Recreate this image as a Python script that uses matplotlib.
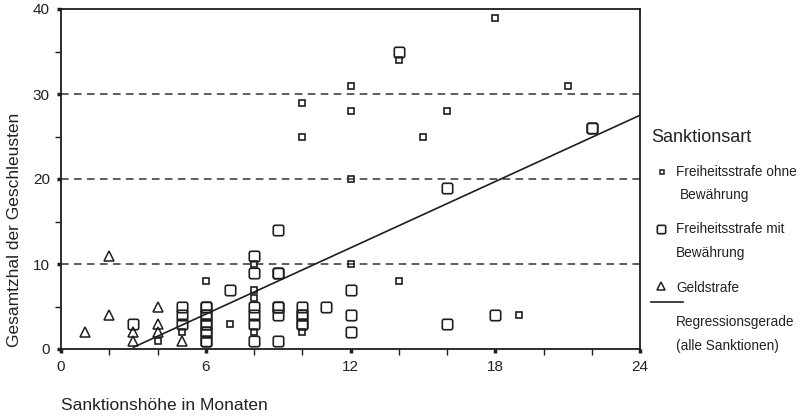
import numpy as np
import matplotlib
matplotlib.use('Agg')
import matplotlib.pyplot as plt
from matplotlib.path import Path
from matplotlib.lines import Line2D
from matplotlib.ticker import MultipleLocator

plt.rcParams['font.family'] = ['Liberation Sans', 'DejaVu Sans']

# Freiheitsstrafe ohne Bewaehrung
ohne_x = [4, 5, 6, 7, 8, 8, 8, 8, 10, 10, 10, 12, 12, 12, 12, 14, 14, 15, 16, 18, 19, 21]
ohne_y = [1, 2, 8, 3, 10, 7, 6, 2, 2, 25, 29, 31, 28, 20, 10, 34, 8, 25, 28, 39, 4, 31]

# Freiheitsstrafe mit Bewaehrung
mit_x = [3, 5, 5, 5, 6, 6, 6, 6, 6, 6, 6, 6, 6, 6, 7,
         8, 8, 8, 8, 8, 8, 9, 9, 9, 9, 9, 9, 9,
         10, 10, 10, 10, 10, 11, 12, 12, 12, 14, 16, 16, 18, 22, 22]
mit_y = [3, 5, 4, 3, 5, 5, 4, 4, 3, 3, 2, 2, 1, 1, 7,
         11, 9, 5, 4, 3, 1, 14, 9, 9, 5, 5, 4, 1,
         5, 4, 4, 3, 3, 5, 7, 4, 2, 35, 19, 3, 4, 26, 26]

# Geldstrafe
geld_x = [1, 2, 2, 3, 3, 4, 4, 4, 5]
geld_y = [2, 11, 4, 2, 1, 5, 3, 2, 1]

# Regressionsgerade (alle Sanktionen)
reg_intercept = -3.7
reg_slope = 1.3
reg_range = [3, 24]

x_ticks = [0, 6, 12, 18, 24]
y_ticks = [0, 10, 20, 30, 40]
grid_levels = [10, 20, 30]


def rounded_square(r=0.35, n=8):
    # Marker path: square with rounded corners
    pts = []
    corners = [(1 - r, 1 - r, 0), (-1 + r, 1 - r, 90), (-1 + r, -1 + r, 180), (1 - r, -1 + r, 270)]
    for cx, cy, a0 in corners:
        for t in np.linspace(np.radians(a0), np.radians(a0 + 90), n):
            pts.append((cx + r * np.cos(t), cy + r * np.sin(t)))
    pts.append(pts[0])
    codes = [Path.MOVETO] + [Path.LINETO] * (len(pts) - 2) + [Path.CLOSEPOLY]
    return Path(pts, codes)


ink = '#1e1e1e'
rsq = rounded_square()

fig = plt.figure(figsize=(8.02, 4.18), dpi=100)
ax = fig.add_axes([61 / 802, 1 - 349 / 418, 579 / 802, 340 / 418])

for lv in grid_levels:
    ax.axhline(lv, color='#333333', lw=1.1, ls=(0, (5, 3.5)), zorder=1)

xr = np.array(reg_range, dtype=float)
ax.plot(xr, reg_intercept + reg_slope * xr, color=ink, lw=1.2, zorder=2)

ax.plot(mit_x, mit_y, ls='none', marker=rsq, ms=7.5, mfc='none', mec=ink, mew=1.2, zorder=3)
ax.plot(ohne_x, ohne_y, ls='none', marker='s', ms=4, mfc='none', mec=ink, mew=1.2, zorder=3)
ax.plot(geld_x, geld_y, ls='none', marker='^', ms=6.5, mfc='none', mec=ink, mew=1.1, zorder=3)

ax.set_xlim(0, 24)
ax.set_ylim(0, 40)
ax.set_xticks(x_ticks)
ax.set_yticks(y_ticks)
ax.xaxis.set_minor_locator(MultipleLocator(2))
ax.yaxis.set_minor_locator(MultipleLocator(5))
ax.tick_params(which='major', direction='out', length=3, width=2.5, color=ink,
               labelsize=11, labelcolor='#222222', pad=5)
ax.tick_params(which='minor', direction='out', length=4, width=1, color=ink)
for s in ax.spines.values():
    s.set_color(ink)
    s.set_linewidth(1.3)

fig.text(15 / 802, 1 - 230 / 418, 'Gesamtzhal der Geschleusten', fontsize=12.5,
         color='#222222', rotation=90, ha='center', va='center')
fig.text(61 / 802, 1 - 405 / 418, 'Sanktionshöhe in Monaten', fontsize=12.5,
         color='#222222', ha='left', va='center')

# legend at the right side
def fx(px):
    return px / 802


def fy(py):
    return 1 - py / 418


fig.text(fx(651), fy(138), 'Sanktionsart', fontsize=13, color='#222222', va='center')
lab_kw = dict(fontsize=9.8, color='#222222', va='center')
fig.text(fx(676), fy(172), 'Freiheitsstrafe ohne', **lab_kw)
fig.text(fx(680), fy(195), 'Bewährung', **lab_kw)
fig.text(fx(676), fy(229), 'Freiheitsstrafe mit', **lab_kw)
fig.text(fx(676), fy(253), 'Bewährung', **lab_kw)
fig.text(fx(676), fy(288), 'Geldstrafe', **lab_kw)
fig.text(fx(676), fy(322), 'Regressionsgerade', **lab_kw)
fig.text(fx(676), fy(346), '(alle Sanktionen)', **lab_kw)

fig.add_artist(Line2D([fx(662)], [fy(172)], marker='s', ms=3.5, mfc='none', mec=ink, mew=1.1))
fig.add_artist(Line2D([fx(661)], [fy(229)], marker=rsq, ms=6, mfc='none', mec=ink, mew=1.2))
fig.add_artist(Line2D([fx(661)], [fy(286)], marker='^', ms=5.5, mfc='none', mec=ink, mew=1.1))
fig.add_artist(Line2D([fx(651), fx(683)], [fy(302), fy(302)], color=ink, lw=1.2))

fig.savefig('out.png', dpi=100)
